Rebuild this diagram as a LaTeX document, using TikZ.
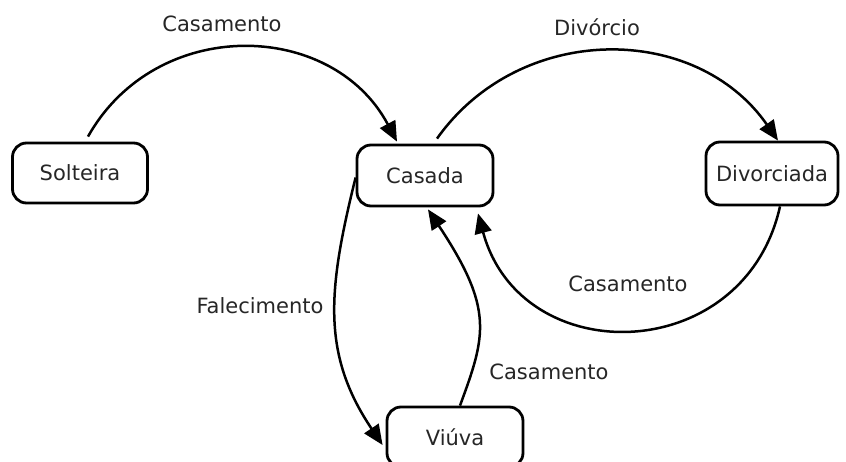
\documentclass[tikz,border=0pt]{standalone}
\usepackage{fontspec}
\setmainfont{DejaVu Sans}
\usetikzlibrary{arrows.meta,calc}
\begin{document}
\begin{tikzpicture}[x=1pt,y=-1pt,
  state/.style={draw, line width=2.8pt, rounded corners=14pt, minimum width=135pt, minimum height=60pt, inner sep=0pt, font=\fontsize{21}{25}\selectfont, text=black!85},
  lbl/.style={font=\fontsize{21}{25}\selectfont, text=black!85, anchor=base, inner sep=0pt},
  trans/.style={line width=2.5pt, -{Triangle[length=20pt,width=17pt]}}]
\useasboundingbox (0,0) rectangle (846,462);
\node[state] (solt) at (80,173) {Solteira};
\node[state, minimum width=136pt, minimum height=61pt] (cas) at (425,175.5) {Casada};
\node[state, minimum width=132pt, minimum height=63pt] (div) at (772,173.5) {Divorciada};
\node[state, minimum width=136pt] (viu) at (455,437) {Viúva};

\draw[trans] ($(solt.north)+(8,-5)$) .. controls +(68,-121) and +(-65,-122) .. ($(cas.north)+(-28,-2)$);
\node[lbl] (l1) at (222,32) {Casamento};
\draw[trans] ($(cas.north)+(12,-5)$) .. controls +(83,-117) and +(-82,-118) .. ($(div.north)+(6,0)$);
\node[lbl] (l2) at (597,36) {Divórcio};
\draw[trans] ($(div.south)+(8,0)$) .. controls +(-35.5,160) and +(43,158.5) .. ($(cas.south)+(53,6)$);
\node[lbl] (l3) at (628,292) {Casamento};
\draw[trans] ($(cas.west)+(0,2)$) .. controls +(-27.6,111.6) and +(-61.6,-91.3) .. ($(viu.west)+(-3,8)$);
\node[lbl] (l4) at (260,313) {Falecimento};
\draw[trans] ($(viu.north)+(5,0)$) .. controls +(26,-70.4) and +(66,99.6) .. ($(cas.south)+(3,2)$);
\node[lbl] (l5) at (549,379) {Casamento};
\end{tikzpicture}
\end{document}
